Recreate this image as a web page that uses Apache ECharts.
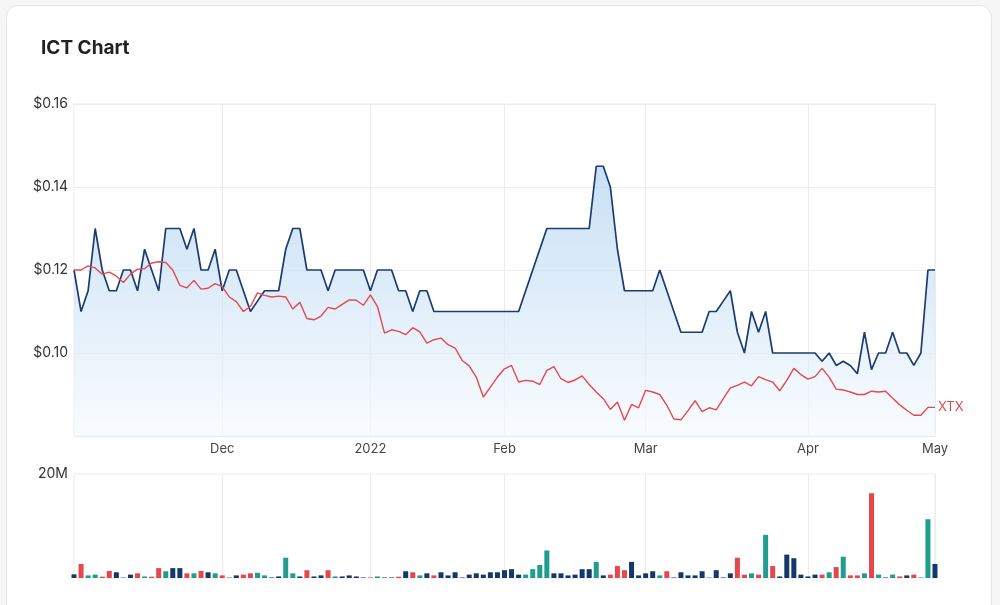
<!DOCTYPE html>
<html>
<head>
<meta charset="utf-8">
<title>ICT Chart</title>
<script src="https://cdn.jsdelivr.net/npm/echarts@6/dist/echarts.min.js"></script>
<style>
html, body { margin: 0; padding: 0; width: 1000px; height: 605px; overflow: hidden; background: #f6f6f6; }
.card { position: absolute; left: 6px; top: 5px; width: 984px; height: 640px; background: #fff; border: 1px solid #e6e6e6; border-radius: 12px; }
#chart { position: absolute; left: 0; top: 0; width: 1000px; height: 605px; }
</style>
</head>
<body>
<div class="card"></div>
<div id="chart"></div>
<script>
// trading days shown on the chart (weekdays from start to end, minus days with no data)
const startDay = '2021-11-02'
const endDay = '2022-05-02'
const noTradeDays = ['2021-12-27', '2021-12-28', '2022-01-26', '2022-01-27', '2022-04-15', '2022-04-18', '2022-04-25']
const monthNames = ['Jan', 'Feb', 'Mar', 'Apr', 'May', 'Jun', 'Jul', 'Aug', 'Sep', 'Oct', 'Nov', 'Dec']

// ICT close price
const ictPrice = [
  0.12, 0.11, 0.115, 0.13, 0.12, 0.115, 0.115, 0.12, 0.12, 0.115,
  0.125, 0.12, 0.115, 0.13, 0.13, 0.13, 0.125, 0.13, 0.12, 0.12,
  0.125, 0.115, 0.12, 0.12, 0.115, 0.11, 0.1125, 0.115, 0.115, 0.115,
  0.125, 0.13, 0.13, 0.12, 0.12, 0.12, 0.115, 0.12, 0.12, 0.12,
  0.12, 0.12, 0.115, 0.12, 0.12, 0.12, 0.115, 0.115, 0.11, 0.115,
  0.115, 0.11, 0.11, 0.11, 0.11, 0.11, 0.11, 0.11, 0.11, 0.11,
  0.11, 0.11, 0.11, 0.11, 0.115, 0.12, 0.125, 0.13, 0.13, 0.13,
  0.13, 0.13, 0.13, 0.13, 0.145, 0.145, 0.14, 0.125, 0.115, 0.115,
  0.115, 0.115, 0.115, 0.12, 0.115, 0.11, 0.105, 0.105, 0.105, 0.105,
  0.11, 0.11, 0.1125, 0.115, 0.105, 0.10, 0.11, 0.105, 0.11, 0.10,
  0.10, 0.10, 0.10, 0.10, 0.10, 0.10, 0.098, 0.10, 0.097, 0.098,
  0.097, 0.095, 0.105, 0.096, 0.10, 0.10, 0.105, 0.10, 0.10, 0.097,
  0.10, 0.12, 0.12
]

// XTX index rebased to ICT's first price
const xtxRebased = [
  0.12, 0.12, 0.121, 0.1205, 0.119, 0.1195, 0.1185, 0.117, 0.119, 0.1202,
  0.1203, 0.1217, 0.122, 0.1218, 0.12, 0.1163, 0.1157, 0.1175, 0.1154, 0.1156,
  0.1167, 0.116, 0.1135, 0.1124, 0.110, 0.1112, 0.1145, 0.1139, 0.1135, 0.1137,
  0.1135, 0.1106, 0.1122, 0.1083, 0.108, 0.1089, 0.111, 0.1106, 0.1117, 0.1128,
  0.1127, 0.1115, 0.114, 0.1112, 0.1048, 0.1056, 0.1052, 0.1044, 0.1061, 0.1051,
  0.1024, 0.1032, 0.1036, 0.102, 0.1012, 0.0982, 0.0969, 0.0942, 0.0894, 0.0918,
  0.0942, 0.0962, 0.097, 0.093, 0.0934, 0.0932, 0.0924, 0.0958, 0.0967, 0.0938,
  0.0929, 0.0935, 0.0945, 0.0924, 0.0906, 0.089, 0.0864, 0.0882, 0.0838, 0.0876,
  0.0868, 0.091, 0.0906, 0.090, 0.0874, 0.0841, 0.0839, 0.0861, 0.0885, 0.0859,
  0.0868, 0.0863, 0.089, 0.0916, 0.0922, 0.093, 0.0921, 0.0943, 0.0936, 0.093,
  0.0909, 0.0934, 0.0963, 0.0948, 0.0937, 0.0943, 0.0963, 0.0942, 0.0913, 0.0911,
  0.0906, 0.090, 0.090, 0.0908, 0.0906, 0.0908, 0.0891, 0.0875, 0.0862, 0.085,
  0.085, 0.0869, 0.0869
]

// volume in millions
const volumeM = [
  0.7, 2.7, 0.5, 0.65, 0.25, 1.35, 1.1, 0.1, 0.65, 0.9,
  0.3, 0.25, 1.9, 1.3, 1.9, 1.9, 0.9, 0.9, 1.35, 1.1,
  0.9, 0.5, 0.1, 0.5, 0.65, 0.9, 1.0, 0.5, 0.1, 0.3,
  3.9, 0.9, 0.3, 1.5, 0.3, 0.5, 1.5, 0.3, 0.3, 0.5,
  0.3, 0.1, 0.1, 0.3, 0.1, 0.1, 0.25, 1.3, 1.1, 0.5,
  0.9, 0.5, 1.1, 0.5, 1.1, 0.1, 0.65, 0.9, 0.65, 1.1,
  1.1, 1.5, 1.7, 0.65, 0.65, 1.7, 2.5, 5.3, 0.9, 0.9,
  0.5, 0.65, 1.7, 1.7, 3.1, 0.5, 0.65, 2.3, 1.5, 3.1,
  0.5, 0.9, 1.3, 0.5, 1.3, 0.1, 1.1, 0.5, 0.5, 1.3,
  0.1, 1.5, 0.1, 0.9, 3.9, 0.65, 0.9, 0.65, 8.3, 2.3,
  0.3, 4.5, 3.8, 0.65, 0.3, 0.65, 0.65, 1.1, 2.1, 4.1,
  0.5, 0.5, 0.9, 16.3, 0.65, 0.1, 0.65, 0.3, 0.5, 0.65,
  0.1, 11.3, 2.7
]

// bar tone: u = up, d = down, n = unchanged
const volumeTone = [
  'n', 'd', 'u', 'u', 'd', 'd', 'n', 'u', 'n', 'd',
  'u', 'd', 'd', 'u', 'n', 'n', 'd', 'u', 'd', 'n',
  'u', 'd', 'u', 'n', 'd', 'd', 'u', 'u', 'n', 'n',
  'u', 'u', 'n', 'd', 'n', 'n', 'd', 'u', 'n', 'n',
  'n', 'n', 'd', 'u', 'n', 'n', 'd', 'n', 'd', 'u',
  'n', 'd', 'n', 'n', 'n', 'n', 'n', 'n', 'n', 'n',
  'n', 'n', 'n', 'n', 'u', 'u', 'u', 'u', 'n', 'n',
  'n', 'n', 'n', 'n', 'u', 'n', 'd', 'd', 'd', 'n',
  'n', 'n', 'n', 'u', 'd', 'n', 'n', 'n', 'n', 'n',
  'u', 'n', 'n', 'n', 'd', 'd', 'u', 'd', 'u', 'd',
  'n', 'n', 'n', 'n', 'n', 'n', 'd', 'u', 'd', 'u',
  'd', 'd', 'u', 'd', 'u', 'n', 'u', 'd', 'n', 'd',
  'u', 'u', 'n'
]

const toneColor = { u: '#1f9e8e', d: '#e5474b', n: '#14386c' }

function tradingDays() {
  let out = []
  let d = new Date(startDay + 'T00:00:00Z')
  let end = new Date(endDay + 'T00:00:00Z')
  while (d <= end) {
    let s = d.toISOString().slice(0, 10)
    let wd = d.getUTCDay()
    if (wd !== 0 && wd !== 6 && noTradeDays.indexOf(s) < 0) out.push(s)
    d.setUTCDate(d.getUTCDate() + 1)
  }
  return out
}

const days = tradingDays()
const monthStarts = days.map((s, i) => (i > 0 && s.slice(5, 7) !== days[i - 1].slice(5, 7)) ? i : -1).filter(i => i >= 0)
const isMonthStart = (i) => monthStarts.indexOf(i) >= 0

function monthLabel(s) {
  let m = parseInt(s.slice(5, 7), 10)
  return m === 1 ? s.slice(0, 4) : monthNames[m - 1]
}

const chart = echarts.init(document.getElementById('chart'))
const gridLine = '#ececec'

let option = {
  animation: false,
  textStyle: { fontFamily: 'Inter, "Noto Sans", sans-serif' },
  title: {
    text: 'ICT Chart',
    left: 36,
    top: 34,
    textStyle: { fontSize: 19, fontWeight: 'bold', color: '#222', fontFamily: 'Inter' }
  },
  grid: [
    { left: 74, right: 65, top: 104, height: 332, show: true, borderColor: gridLine, borderWidth: 1 },
    { left: 74, right: 65, top: 474, height: 104, show: true, borderColor: gridLine, borderWidth: 1 }
  ],
  xAxis: [
    {
      gridIndex: 0,
      type: 'category',
      data: days,
      boundaryGap: false,
      axisLine: { lineStyle: { color: gridLine } },
      axisTick: { show: false },
      axisLabel: { interval: isMonthStart, formatter: monthLabel, color: '#444', fontSize: 13, margin: 7 },
      splitLine: { show: true, interval: isMonthStart, lineStyle: { color: gridLine } }
    },
    {
      gridIndex: 1,
      type: 'category',
      data: days,
      boundaryGap: false,
      axisLine: { show: false },
      axisTick: { show: false },
      axisLabel: { show: false },
      splitLine: { show: true, interval: isMonthStart, lineStyle: { color: gridLine } }
    }
  ],
  yAxis: [
    {
      gridIndex: 0,
      type: 'value',
      min: 0.08,
      max: 0.16,
      interval: 0.02,
      axisLine: { show: false },
      axisTick: { show: false },
      axisLabel: { showMinLabel: false, formatter: v => '$' + v.toFixed(2), color: '#333', fontSize: 14, margin: 6 },
      splitLine: { lineStyle: { color: gridLine } }
    },
    {
      gridIndex: 1,
      type: 'value',
      min: 0,
      max: 20,
      interval: 20,
      axisLine: { show: false },
      axisTick: { show: false },
      axisLabel: { showMinLabel: false, formatter: v => v + 'M', color: '#333', fontSize: 14, margin: 6 },
      splitLine: { show: false }
    }
  ],
  series: [
    {
      name: 'ICT',
      type: 'line',
      xAxisIndex: 0,
      yAxisIndex: 0,
      data: ictPrice,
      symbol: 'none',
      lineStyle: { color: '#1b3c71', width: 1.7 },
      areaStyle: {
        color: new echarts.graphic.LinearGradient(0, 0, 0, 1, [
          { offset: 0, color: '#b0d2f0' },
          { offset: 1, color: '#f6fafe' }
        ])
      },
      z: 2
    },
    {
      name: 'XTX',
      type: 'line',
      xAxisIndex: 0,
      yAxisIndex: 0,
      data: xtxRebased,
      symbol: 'none',
      lineStyle: { color: '#e5484d', width: 1.4 },
      endLabel: { show: true, formatter: 'XTX', color: '#e5484d', fontSize: 13, distance: 3 },
      z: 3
    },
    {
      name: 'Volume',
      type: 'bar',
      xAxisIndex: 1,
      yAxisIndex: 1,
      barWidth: 5,
      data: volumeM.map((v, i) => ({ value: v, itemStyle: { color: toneColor[volumeTone[i]] } }))
    }
  ]
}

chart.setOption(option)
</script>
</body>
</html>
